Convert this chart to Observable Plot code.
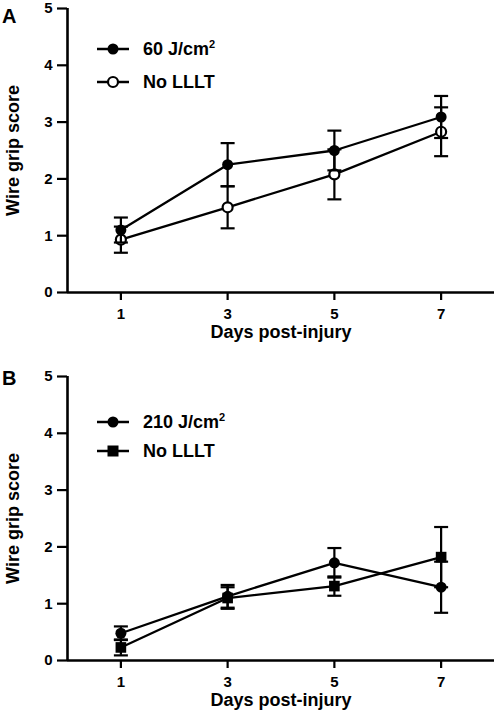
<!DOCTYPE html>
<html>
<head>
<meta charset="utf-8">
<script src="https://cdn.jsdelivr.net/npm/d3@7"></script>
<script src="https://cdn.jsdelivr.net/npm/@observablehq/plot@0.6"></script>
<style>
  html, body { margin: 0; padding: 0; background: #fff; overflow: hidden; }
  #wrap { position: relative; width: 497px; height: 715px; font-family: "Liberation Sans", Arial, sans-serif; font-weight: bold; color: #000; }
  .panel { position: absolute; left: 0; }
  .letter { position: absolute; font-size: 20px; font-weight: bold; line-height: 1; }
  .leg { position: absolute; display: flex; align-items: center; font-size: 18px; font-weight: bold; white-space: nowrap; }
  .leg svg { display: block; margin-right: 13px; }
  .leg sup { font-size: 11px; vertical-align: 0; position: relative; top: -7px; }
</style>
</head>
<body>
<div id="wrap"></div>
<script>
// ---- data ----
const days = [1, 3, 5, 7];
const xTicks = [1, 3, 5, 7];
const yTicks = [0, 1, 2, 3, 4, 5];
const xLabel = "Days post-injury";
const yLabel = "Wire grip score";

// Panel A
const aLetter = "A";
const a60Name = "60 J/cm";
const a60Mean = [1.10, 2.25, 2.50, 3.09];
const a60Err  = [0.22, 0.38, 0.35, 0.37];
const aNoName = "No LLLT";
const aNoMean = [0.93, 1.50, 2.08, 2.83];
const aNoErr  = [0.23, 0.37, 0.44, 0.43];

// Panel B
const bLetter = "B";
const b210Name = "210 J/cm";
const b210Mean = [0.48, 1.13, 1.72, 1.29];
const b210Err  = [0.12, 0.20, 0.26, 0.45];
const bNoName = "No LLLT";
const bNoMean = [0.23, 1.10, 1.31, 1.82];
const bNoErr  = [0.14, 0.19, 0.17, 0.53];

// ---- helpers ----
function rows(mean, err) {
  return days.map((d, i) => ({day: d, mean: mean[i], lo: mean[i] - err[i], hi: mean[i] + err[i]}));
}
const capSymbol = {
  draw(ctx) { ctx.moveTo(-7, 0); ctx.lineTo(7, 0); }
};

function seriesMarks(data, marker) {
  const m = [
    Plot.line(data, {x: "day", y: "mean", stroke: "#000", strokeWidth: 2.3}),
    Plot.ruleX(data, {x: "day", y1: "lo", y2: "hi", stroke: "#000", strokeWidth: 2.2}),
    Plot.dot(data, {x: "day", y: "hi", symbol: capSymbol, stroke: "#000", strokeWidth: 2.2, r: 7}),
    Plot.dot(data, {x: "day", y: "lo", symbol: capSymbol, stroke: "#000", strokeWidth: 2.2, r: 7})
  ];
  if (marker === "filled") m.push(Plot.dot(data, {x: "day", y: "mean", r: 5.5, fill: "#000", stroke: "none"}));
  if (marker === "open") m.push(Plot.dot(data, {x: "day", y: "mean", r: 5, fill: "#fff", stroke: "#000", strokeWidth: 2.2}));
  if (marker === "square") m.push(Plot.dot(data, {x: "day", y: "mean", symbol: "square", r: 6, fill: "#000", stroke: "none"}));
  return m;
}

function panel(seriesList) {
  const marks = [
    Plot.ruleY([0], {stroke: "#000", strokeWidth: 2.6}),
    Plot.ruleX([0], {stroke: "#000", strokeWidth: 2.6}),
    Plot.axisX({ticks: xTicks, tickFormat: d3.format("d"), tickSize: 8, tickPadding: 8, label: null, stroke: "#000", strokeWidth: 2.2, fill: "#000"}),
    Plot.axisY({ticks: yTicks, tickFormat: d3.format("d"), tickSize: 10, tickPadding: 5, label: null, stroke: "#000", strokeWidth: 2.2, fill: "#000"}),
    Plot.text([xLabel], {text: d => d, frameAnchor: "bottom", textAnchor: "middle", dy: 45, fontSize: 18, fontWeight: "bold", fill: "#000"}),
    Plot.text([yLabel], {text: d => d, frameAnchor: "left", textAnchor: "middle", dx: -54, rotate: -90, fontSize: 18, fontWeight: "bold", fill: "#000"})
  ];
  for (const s of seriesList) marks.push(...seriesMarks(s.data, s.marker));
  return Plot.plot({
    width: 497, height: 368,
    marginLeft: 67, marginRight: 3, marginTop: 8, marginBottom: 76,
    x: {domain: [0, 8]},
    y: {domain: [0, 5]},
    style: {fontFamily: "'Liberation Sans', Arial, sans-serif", fontWeight: "bold", fontSize: "15px", color: "#000", background: "transparent", overflow: "visible"},
    marks
  });
}

function legendIcon(marker) {
  const NS = "http://www.w3.org/2000/svg";
  const svg = document.createElementNS(NS, "svg");
  svg.setAttribute("width", 34); svg.setAttribute("height", 14);
  let html = '<line x1="1" y1="7" x2="33" y2="7" stroke="#000" stroke-width="2.5"/>';
  if (marker === "filled") html += '<circle cx="17" cy="7" r="5.5" fill="#000"/>';
  if (marker === "open") html += '<circle cx="17" cy="7" r="5" fill="#fff" stroke="#000" stroke-width="2.2"/>';
  if (marker === "square") html += '<rect x="11.5" y="1.5" width="11" height="11" fill="#000"/>';
  svg.innerHTML = html;
  return svg;
}

function addLegend(wrap, name, sup, marker, top) {
  const d = document.createElement("div");
  d.className = "leg";
  d.style.left = "96px";
  d.style.top = (top - 10) + "px";
  d.style.height = "20px";
  d.appendChild(legendIcon(marker));
  const t = document.createElement("span");
  t.textContent = name;
  if (sup) { const s = document.createElement("sup"); s.textContent = sup; t.appendChild(s); }
  d.appendChild(t);
  wrap.appendChild(d);
}

function addLetter(wrap, text, top) {
  const d = document.createElement("div");
  d.className = "letter";
  d.style.left = "2px";
  d.style.top = top + "px";
  d.textContent = text;
  wrap.appendChild(d);
}

const wrap = document.getElementById("wrap");

const pA = panel([
  {data: rows(aNoMean, aNoErr), marker: "open"},
  {data: rows(a60Mean, a60Err), marker: "filled"}
]);
pA.classList.add("panel"); pA.style.top = "0px";
wrap.appendChild(pA);

const pB = panel([
  {data: rows(bNoMean, bNoErr), marker: "square"},
  {data: rows(b210Mean, b210Err), marker: "filled"}
]);
pB.classList.add("panel"); pB.style.top = "368px";
wrap.appendChild(pB);

addLetter(wrap, aLetter, 6);
addLetter(wrap, bLetter, 368);
addLegend(wrap, a60Name, "2", "filled", 49);
addLegend(wrap, aNoName, "", "open", 82);
addLegend(wrap, b210Name, "2", "filled", 422);
addLegend(wrap, bNoName, "", "square", 451);
</script>
</body>
</html>
